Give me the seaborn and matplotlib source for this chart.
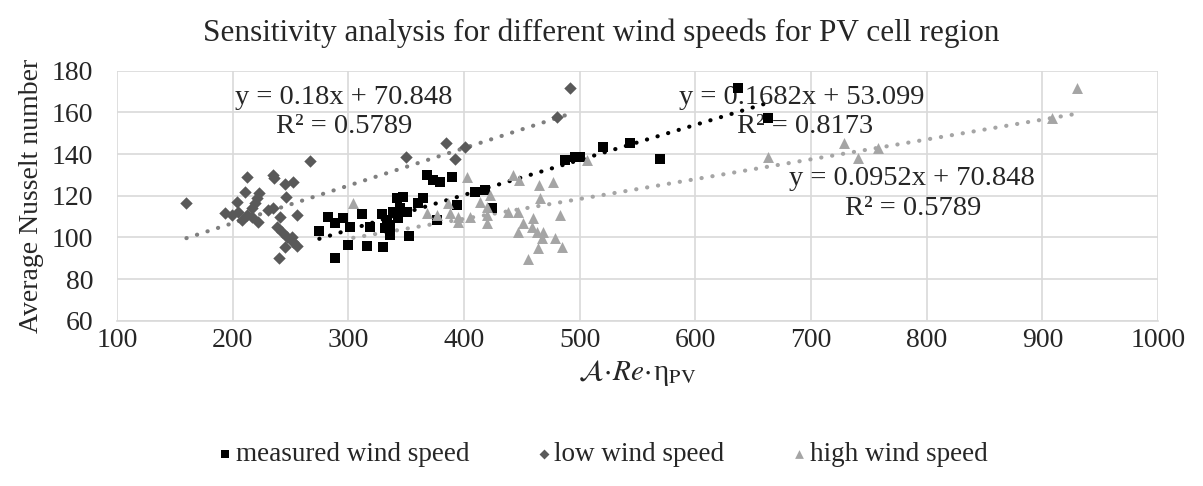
import numpy as np
import pandas as pd
import matplotlib
matplotlib.use("Agg")
import matplotlib.pyplot as plt
import seaborn as sns

# ---------------- data ----------------
measured_x = [274.9, 282.6, 288.4, 295.6, 301.4, 311.5, 318.7, 299.9, 315.8, 288.4,
              329.6, 328.7, 333.0, 336.0, 331.6, 336.0, 341.7, 347.4, 338.8, 344.6,
              350.4, 343.1, 352.6, 360.4, 367.7, 373.4, 376.3, 379.2, 389.3, 409.4,
              418.0, 423.9, 393.6, 364.7, 487.0, 495.8, 500.2, 520.3, 543.4, 569.3,
              636.5, 663.0]
measured_y = [103.2, 110.0, 106.8, 109.4, 105.1, 111.0, 105.1, 96.3, 96.0, 90.0,
              95.5, 111.0, 108.3, 106.0, 104.4, 101.1, 118.7, 119.5, 112.3, 113.9,
              112.3, 109.1, 100.8, 116.3, 130.0, 127.5, 108.3, 126.7, 129.1, 121.9,
              122.7, 113.9, 115.5, 118.7, 137.0, 138.4, 138.4, 143.2, 145.5, 137.6,
              171.9, 157.1]

low_x = [160.0, 212.0, 234.6, 236.0, 245.0, 252.0, 211.0, 222.7, 220.7, 204.0,
         246.0, 219.3, 216.4, 255.3, 193.3, 199.1, 204.8, 207.7, 212.0, 216.4,
         222.1, 230.8, 235.1, 240.9, 238.0, 242.3, 246.7, 251.0, 252.4, 245.4,
         255.8, 240.0, 266.8, 349.8, 384.0, 400.8, 392.1, 480.0, 491.5]
low_y = [116.6, 129.0, 130.0, 128.3, 125.6, 126.4, 122.0, 121.1, 118.7, 117.1,
         119.5, 116.3, 113.9, 110.7, 111.5, 110.7, 112.3, 108.3, 110.7, 109.9,
         107.5, 113.1, 113.9, 109.9, 105.1, 102.7, 100.3, 100.3, 97.9, 95.5,
         96.0, 90.0, 136.8, 138.4, 145.2, 143.2, 137.5, 157.6, 171.5]

high_x = [304.2, 402.2, 442.5, 447.7, 465.0, 477.0, 465.6, 422.4, 413.7, 419.5,
          367.7, 376.3, 386.3, 387.8, 395.0, 395.0, 405.0, 419.5, 419.5, 438.2,
          446.8, 459.8, 482.9, 451.2, 446.8, 458.4, 462.7, 468.4, 467.0, 478.6,
          484.4, 464.1, 455.5, 506.0, 663.0, 728.4, 740.7, 758.0, 908.7, 930.0]
high_y = [116.3, 129.1, 130.0, 127.5, 125.1, 126.4, 118.7, 120.3, 117.1, 114.7,
          111.5, 110.7, 116.3, 111.5, 109.9, 107.5, 110.0, 110.7, 106.8, 112.3,
          112.3, 109.1, 110.7, 106.8, 102.7, 105.1, 102.7, 102.7, 99.5, 99.5,
          95.5, 94.7, 89.6, 137.1, 138.4, 145.2, 137.9, 142.7, 157.1, 171.5]

# trendline coefficients (as printed on the chart)
low_slope, low_icpt = 0.18, 70.848
meas_slope, meas_icpt = 0.1682, 53.099
high_slope, high_icpt = 0.0952, 70.848

series_names = ["measured wind speed", "low wind speed", "high wind speed"]
x_ticks = [100, 200, 300, 400, 500, 600, 700, 800, 900, 1000]
y_ticks = [60, 80, 100, 120, 140, 160, 180]

# ---------------- style ----------------
sns.set_theme(style="white")
plt.rcParams["font.family"] = ["Liberation Serif", "DejaVu Serif"]
plt.rcParams["mathtext.fontset"] = "stix"

fig = plt.figure(figsize=(12.03, 4.86), dpi=100)
ax = fig.add_axes([0.0973, 0.34, 0.8653, 0.5145])

c_meas, c_low, c_high = "#000000", "#595959", "#a5a5a5"
lc_low, lc_high = "#7f7f7f", "#a5a5a5"

# trendlines
dot = (0, (0.05, 2.6))
for xs, sl, ic, col in [(low_x, low_slope, low_icpt, lc_low),
                        (measured_x, meas_slope, meas_icpt, "#000000"),
                        (high_x, high_slope, high_icpt, lc_high)]:
    xx = np.array([min(xs), max(xs)])
    ax.plot(xx, sl * xx + ic, color=col, lw=3.0, linestyle=dot,
            dash_capstyle="round", zorder=3)

sns.scatterplot(x=measured_x, y=measured_y, ax=ax, marker="s", s=62, color=c_meas,
                linewidth=0, label=series_names[0], zorder=4)
sns.scatterplot(x=low_x, y=low_y, ax=ax, marker="D", s=40, color=c_low,
                linewidth=0, label=series_names[1], zorder=4)
sns.scatterplot(x=high_x, y=high_y, ax=ax, marker="^", s=62, color=c_high,
                linewidth=0, label=series_names[2], zorder=4)

ax.set_xlim(100, 1000)
ax.set_ylim(60, 180)
ax.set_xticks(x_ticks)
ax.set_yticks(y_ticks)
ax.tick_params(axis="y", labelsize=20, length=0, pad=17)
ax.tick_params(axis="x", labelsize=20, length=0, pad=5)
ax.grid(True, color="#d9d9d9", lw=1.2)
ax.set_axisbelow(True)
for s in ["top", "right", "left"]:
    ax.spines[s].set_visible(False)
ax.spines["bottom"].set_color("#d9d9d9")
ax.spines["bottom"].set_linewidth(1.2)

ax.set_xlabel(r"$\mathcal{A}\!\cdot\!\mathit{Re}\!\cdot\!$η$_{\mathrm{PV}}$", fontsize=21, labelpad=4)
ax.set_ylabel("Average Nusselt number", fontsize=20, labelpad=6)
fig.suptitle("Sensitivity analysis for different wind speeds for PV cell region",
             fontsize=22.5, x=0.5, y=0.962)

# equation labels
eq_fs = 20.5
ax.text(202, 167, "y = 0.18x + 70.848", fontsize=eq_fs, ha="left", va="center")
ax.text(237, 153, "R² = 0.5789", fontsize=eq_fs, ha="left", va="center")
ax.text(586, 167, "y = 0.1682x + 53.099", fontsize=eq_fs, ha="left", va="center")
ax.text(636, 153, "R² = 0.8173", fontsize=eq_fs, ha="left", va="center")
ax.text(681, 128.5, "y = 0.0952x + 70.848", fontsize=eq_fs, ha="left", va="center")
ax.text(729, 114, "R² = 0.5789", fontsize=eq_fs, ha="left", va="center")

ax.legend(loc="center", bbox_to_anchor=(0.5, 0.065), bbox_transform=fig.transFigure,
          ncol=3, frameon=False, fontsize=19.5, markerscale=0.8, handletextpad=0.05,
          columnspacing=2.4, handlelength=0.7)

fig.savefig("out.png", dpi=100)
